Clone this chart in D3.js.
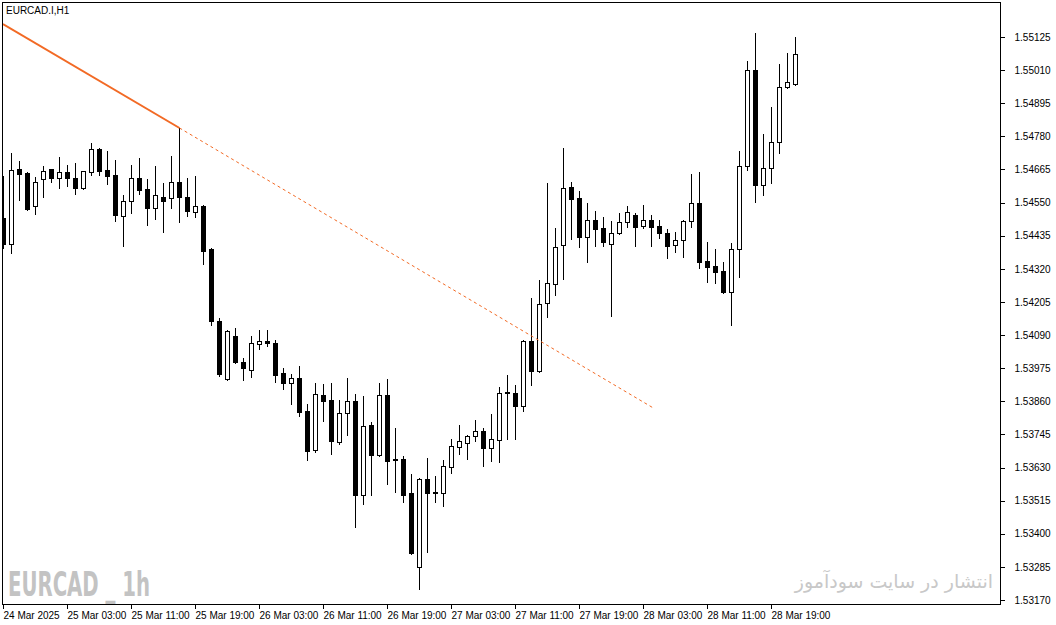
<!DOCTYPE html>
<html>
<head>
<meta charset="utf-8">
<script src="https://cdn.jsdelivr.net/npm/d3@7"></script>
<style>
body { margin: 0; background: #fff; }
svg text { font-family: "Liberation Sans", Arial, sans-serif; }
</style>
</head>
<body>
<svg id="chart" width="1056" height="625"></svg>
<script>
//EURCAD H1 bars, first bar 24 Mar 2025 19:00
var opens = [1.54496,1.54406,1.54666,1.54653,1.54538,1.54632,1.54666,1.54635,1.54656,1.54635,
    1.54600,1.54656,1.54736,1.54663,1.54646,1.54503,1.54555,1.54635,1.54597,1.54531,
    1.54569,1.54566,1.54621,1.54569,1.54517,1.54538,1.54388,1.54138,1.53937,1.54086,
    1.53996,1.53968,1.54058,1.54069,1.54062,1.53958,1.53923,1.53940,1.53826,1.53690,
    1.53881,1.53864,1.53718,1.53819,1.53860,1.53534,1.53777,1.53673,1.53881,1.53659,
    1.53659,1.53541,1.53284,1.53590,1.53541,1.53541,1.53631,1.53701,1.53714,1.53739,
    1.53756,1.53697,1.53725,1.53888,1.53888,1.53843,1.54069,1.53965,1.54200,1.54267,
    1.54402,1.54604,1.54566,1.54430,1.54489,1.54461,1.54406,1.54444,1.54482,1.54507,
    1.54468,1.54489,1.54468,1.54444,1.54402,1.54420,1.54486,1.54548,1.54347,1.54329,
    1.54312,1.54239,1.54388,1.54677,1.55010,1.54611,1.54670,1.54760,1.54951,1.54962];
var highs = [1.54642,1.54722,1.54694,1.54656,1.54639,1.54677,1.54668,1.54708,1.54680,1.54687,
    1.54661,1.54757,1.54739,1.54729,1.54698,1.54576,1.54680,1.54705,1.54632,1.54677,
    1.54618,1.54712,1.54809,1.54635,1.54642,1.54541,1.54392,1.54149,1.54107,1.54114,
    1.54010,1.54086,1.54107,1.54107,1.54072,1.53975,1.53954,1.53982,1.53850,1.53923,
    1.53920,1.53923,1.53864,1.53940,1.53885,1.53878,1.53788,1.53923,1.53937,1.53767,
    1.53669,1.53607,1.53593,1.53662,1.53600,1.53655,1.53728,1.53777,1.53742,1.53794,
    1.53767,1.53815,1.53909,1.53951,1.53916,1.54072,1.54218,1.54281,1.54618,1.54461,
    1.54739,1.54621,1.54590,1.54548,1.54521,1.54500,1.54486,1.54514,1.54538,1.54514,
    1.54541,1.54507,1.54489,1.54458,1.54448,1.54489,1.54649,1.54656,1.54413,1.54388,
    1.54343,1.54409,1.54729,1.55042,1.55139,1.54788,1.54882,1.55031,1.55069,1.55125];
var lows = [1.54392,1.54375,1.54559,1.54524,1.54510,1.54569,1.54621,1.54600,1.54607,1.54580,
    1.54597,1.54646,1.54646,1.54614,1.54486,1.54399,1.54514,1.54580,1.54472,1.54493,
    1.54448,1.54531,1.54482,1.54503,1.54500,1.54336,1.54125,1.53948,1.53933,1.53993,
    1.53933,1.53944,1.54041,1.54052,1.53926,1.53902,1.53850,1.53808,1.53655,1.53683,
    1.53791,1.53676,1.53711,1.53742,1.53423,1.53503,1.53534,1.53669,1.53572,1.53544,
    1.53510,1.53330,1.53207,1.53336,1.53510,1.53496,1.53610,1.53676,1.53659,1.53721,
    1.53635,1.53652,1.53648,1.53728,1.53728,1.53826,1.53916,1.53961,1.54152,1.54229,
    1.54284,1.54423,1.54395,1.54343,1.54399,1.54399,1.54156,1.54441,1.54465,1.54399,
    1.54461,1.54399,1.54427,1.54357,1.54378,1.54361,1.54465,1.54322,1.54274,1.54270,
    1.54236,1.54125,1.54291,1.54663,1.54552,1.54576,1.54618,1.54722,1.54948,1.54960];
var closes = [1.54406,1.54663,1.54649,1.54527,1.54621,1.54659,1.54635,1.54656,1.54635,1.54600,
    1.54659,1.54736,1.54659,1.54642,1.54507,1.54555,1.54635,1.54593,1.54531,1.54576,
    1.54555,1.54621,1.54569,1.54521,1.54538,1.54382,1.54138,1.53954,1.54104,1.53996,
    1.53975,1.54062,1.54069,1.54062,1.53951,1.53923,1.53940,1.53822,1.53687,1.53885,
    1.53860,1.53721,1.53819,1.53860,1.53534,1.53774,1.53673,1.53881,1.53652,1.53655,
    1.53534,1.53332,1.53590,1.53541,1.53544,1.53635,1.53704,1.53721,1.53739,1.53756,
    1.53697,1.53728,1.53888,1.53892,1.53843,1.54069,1.53965,1.54197,1.54270,1.54395,
    1.54600,1.54562,1.54430,1.54489,1.54458,1.54413,1.54444,1.54482,1.54517,1.54465,
    1.54489,1.54465,1.54444,1.54399,1.54420,1.54486,1.54548,1.54343,1.54326,1.54309,
    1.54239,1.54388,1.54677,1.55010,1.54611,1.54670,1.54760,1.54951,1.54969,1.55066];

//price scale labels
var priceTicks = [1.53170,1.53285,1.53400,1.53515,1.53630,1.53745,1.53860,1.53975,1.54090,
    1.54205,1.54320,1.54435,1.54550,1.54665,1.54780,1.54895,1.55010,1.55125];

//time scale labels and the bar each one sits on
var timeLabels = ["24 Mar 2025","25 Mar 03:00","25 Mar 11:00","25 Mar 19:00","26 Mar 03:00",
    "26 Mar 11:00","26 Mar 19:00","27 Mar 03:00","27 Mar 11:00","27 Mar 19:00",
    "28 Mar 03:00","28 Mar 11:00","28 Mar 19:00"];
var timeLabelBars = [0,8,16,24,32,40,48,56,64,72,80,88,96];

//trend line anchors (bar, price): solid part then dotted extension
var trendBars = [0, 22, 81.4];
var trendPrices = [1.55170, 1.54809, 1.53835];

var svg = d3.select("#chart");
var frame = {left: 2, top: 2, right: 1000, bottom: 604};

var bars = opens.map(function(o, i) {
    return {i: i, o: o, h: highs[i], l: lows[i], c: closes[i]};
});

var x = d3.scaleLinear()
    .domain([0, bars.length - 1])
    .range([3, 3 + 8 * (bars.length - 1)]);

var y = d3.scaleLinear()
    .domain([1.53170, 1.55125])
    .range([600, 37]);

//clip for plot area
svg.append("defs").append("clipPath")
    .attr("id", "plotclip")
    .append("rect")
    .attr("x", frame.left + 1)
    .attr("y", frame.top + 1)
    .attr("width", frame.right - frame.left - 1)
    .attr("height", frame.bottom - frame.top - 1);

var plot = svg.append("g")
    .attr("clip-path", "url(#plotclip)")
    .attr("shape-rendering", "crispEdges");

//watermarks
svg.append("text")
    .attr("x", 8)
    .attr("y", 596)
    .attr("textLength", 142)
    .attr("lengthAdjust", "spacingAndGlyphs")
    .style("font-family", "'Liberation Sans Narrow', 'DejaVu Sans Condensed', sans-serif")
    .style("font-weight", "bold")
    .style("font-size", "33px")
    .attr("fill", "#c3c3c3")
    .text("EURCAD _ 1h");

svg.append("text")
    .attr("x", 993)
    .attr("y", 588)
    .attr("text-anchor", "end")
    .style("font-family", "'DejaVu Sans', sans-serif")
    .style("font-size", "19px")
    .attr("fill", "#c8c8c8")
    .text("انتشار در سایت سودآموز");

//wicks
plot.selectAll(".wick")
    .data(bars)
    .enter()
    .append("line")
    .attr("class", "wick")
    .attr("x1", function(d) { return Math.round(x(d.i)) + 0.5; })
    .attr("x2", function(d) { return Math.round(x(d.i)) + 0.5; })
    .attr("y1", function(d) { return Math.round(y(d.h)); })
    .attr("y2", function(d) { return Math.round(y(d.l)) + 1; })
    .attr("stroke", "#000")
    .attr("stroke-width", 1);

//bodies
plot.selectAll(".body")
    .data(bars)
    .enter()
    .append("rect")
    .attr("class", "body")
    .each(function(d) {
        var px = Math.round(x(d.i));
        var top = Math.round(y(Math.max(d.o, d.c)));
        var bot = Math.round(y(Math.min(d.o, d.c)));
        var r = d3.select(this);
        if (d.c > d.o && bot - top > 1) {
            //bull candle: white with black border
            r.attr("x", px - 1.5).attr("y", top + 0.5)
                .attr("width", 4).attr("height", bot - top)
                .attr("fill", "#fff").attr("stroke", "#000").attr("stroke-width", 1);
        } else {
            r.attr("x", px - 2).attr("y", top)
                .attr("width", 5).attr("height", Math.max(2, bot - top + 1))
                .attr("fill", "#000");
        }
    });

//trend line
var trendColor = "#f26a25";
plot.append("line")
    .attr("x1", x(trendBars[0])).attr("y1", y(trendPrices[0]))
    .attr("x2", x(trendBars[1]) + 0.5).attr("y2", y(trendPrices[1]))
    .attr("stroke", trendColor)
    .attr("stroke-width", 2)
    .attr("shape-rendering", "auto");

plot.append("line")
    .attr("x1", x(trendBars[1]) + 0.5).attr("y1", y(trendPrices[1]))
    .attr("x2", x(trendBars[2])).attr("y2", y(trendPrices[2]))
    .attr("stroke", trendColor)
    .attr("stroke-width", 1)
    .attr("stroke-dasharray", "3,3")
    .attr("shape-rendering", "auto");

//frame
svg.append("rect")
    .attr("x", frame.left + 0.5)
    .attr("y", frame.top + 0.5)
    .attr("width", frame.right - frame.left)
    .attr("height", frame.bottom - frame.top)
    .attr("fill", "none")
    .attr("stroke", "#000")
    .attr("stroke-width", 1)
    .attr("shape-rendering", "crispEdges");

//title
svg.append("text")
    .attr("x", 6)
    .attr("y", 14)
    .style("font-size", "10px")
    .attr("fill", "#000")
    .text("EURCAD.I,H1");

//price axis
var yAxis = d3.axisRight(y)
    .tickValues(priceTicks)
    .tickSize(4)
    .tickPadding(10)
    .tickFormat(d3.format(".5f"));

var gy = svg.append("g")
    .attr("transform", "translate(" + (frame.right + 0.5) + ",0)")
    .call(yAxis);
gy.select(".domain").remove();
gy.selectAll("text").style("font-size", "10px").attr("fill", "#000");
gy.selectAll("line").attr("shape-rendering", "crispEdges");

//time axis
var xAxis = d3.axisBottom(x)
    .tickValues(timeLabelBars)
    .tickSize(4)
    .tickPadding(3)
    .tickFormat(function(d, i) { return timeLabels[i]; });

var gx = svg.append("g")
    .attr("transform", "translate(0," + (frame.bottom + 0.5) + ")")
    .call(xAxis);
gx.select(".domain").remove();
gx.selectAll("text")
    .attr("text-anchor", "start")
    .attr("x", 0)
    .style("font-size", "10px")
    .attr("fill", "#000");
gx.selectAll("line").attr("shape-rendering", "crispEdges");
</script>
</body>
</html>
